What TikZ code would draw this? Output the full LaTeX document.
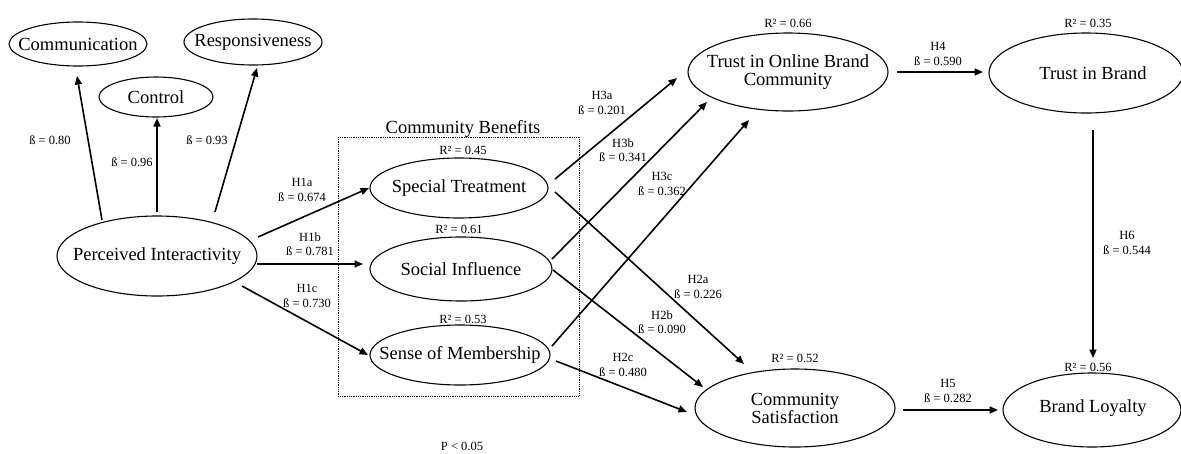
\documentclass[tikz,border=0pt]{standalone}
\usepackage{fontspec}
\setmainfont{Liberation Serif}
\usetikzlibrary{shapes.geometric,arrows.meta,calc}
\newcommand\bigf{\fontsize{18.5}{18}\selectfont}
\newcommand\smallf{\fontsize{12.5}{14.5}\selectfont}
\tikzset{
  lat/.style={ellipse, draw, line width=1.1pt, inner sep=0pt},
  txt/.style={font=\bigf, align=center, inner sep=0pt},
  conn/.style={line width=1.6pt, -{Triangle[length=8.5pt,width=7pt]}},
  lab/.style={font=\smallf, align=center, inner sep=0pt},
}
\begin{document}
\begin{tikzpicture}[x=1pt,y=-1pt]
\useasboundingbox (0,0) rectangle (1181,453);
% ellipses
\node[lat, minimum width=138pt, minimum height=44pt] (com) at (78,44) {};
\node[lat, minimum width=114pt, minimum height=40pt] (ctl) at (156,97) {};
\node[lat, minimum width=138pt, minimum height=46pt] (resp) at (253,42) {};
\node[lat, minimum width=200pt, minimum height=80pt] (pi) at (157,256) {};
\node[lat, minimum width=178pt, minimum height=60pt] (st) at (459,188) {};
\node[lat, minimum width=182pt, minimum height=64pt] (si) at (461,269) {};
\node[lat, minimum width=180pt, minimum height=60pt] (som) at (460,355) {};
\node[lat, minimum width=200pt, minimum height=78pt] (tobc) at (788,72) {};
\node[lat, minimum width=194pt, minimum height=80pt] (tb) at (1086,73) {};
\node[lat, minimum width=200pt, minimum height=78pt] (cs) at (795,408) {};
\node[lat, minimum width=178pt, minimum height=74pt] (bl) at (1092,410) {};
% texts
\node[txt] (comt) at (com) {Communication};
\node[txt] (ctlt) at (ctl) {Control};
\node[txt] (respt) at (resp) {Responsiveness};
\node[txt] (pit) at (pi) {Perceived Interactivity};
\node[txt] (stt) at (st) {Special Treatment};
\node[txt] (sit) at (si) {Social Influence};
\node[txt] (somt) at (som) {Sense of Membership};
\node[txt] (tobct) at (tobc) {Trust in Online Brand\\Community};
\node[txt] (tbt) at (1093,73) {Trust in Brand};
\node[txt] (cst) at (cs) {Community\\Satisfaction};
\node[txt] (blt) at (1093,408) {Brand Loyalty};
% community benefits box
\draw[densely dotted, line width=0.8pt] (338,137) rectangle (579,396);
\node[txt] (cbt) at (463,129) {Community Benefits};
% R2 labels
\node[lab] (r1) at (463,150) {R² = 0.45};
\node[lab] (r2) at (459,229) {R² = 0.61};
\node[lab] (r3) at (463,319) {R² = 0.53};
\node[lab] (r4) at (788,23) {R² = 0.66};
\node[lab] (r5) at (1088,23) {R² = 0.35};
\node[lab] (r6) at (795,358) {R² = 0.52};
\node[lab] (r7) at (1088,367) {R² = 0.56};
% connectors
\draw[conn] ($(pi)+(-55,-36)$) -- ($(com)+(-1,32)$);
\draw[conn] ($(pi)+(0,-44)$) -- ($(ctl)+(1,21)$);
\draw[conn] ($(pi)+(58,-44)$) -- ($(resp)+(4,26)$);
\draw[conn] ($(pi)+(101,-19)$) -- ($(st)+(-90,0)$);
\draw[conn] ($(pi)+(100,8)$) -- ($(si)+(-98,-5)$);
\draw[conn] ($(pi)+(85,30)$) -- ($(som)+(-92,0)$);
\draw[conn] ($(st)+(96,-9)$) -- ($(tobc)+(-111,6)$);
\draw[conn] ($(si)+(91,-10)$) -- ($(tobc)+(-81,30)$);
\draw[conn] ($(som)+(92,-9)$) -- ($(tobc)+(-39,48)$);
\draw[conn] ($(st)+(96,4)$) -- ($(cs)+(-51,-44)$);
\draw[conn] ($(si)+(92,1)$) -- ($(cs)+(-92,-21)$);
\draw[conn] ($(som)+(96,6)$) -- ($(cs)+(-108,4)$);
\draw[conn] ($(tobc)+(109,0)$) -- ($(tb)+(-103,-1)$);
\draw[conn] ($(cs)+(108,2)$) -- ($(bl)+(-94,0)$);
\draw[conn] ($(tb)+(7,57)$) -- ($(bl)+(1,-52)$);
% path labels
\node[lab] (l1) at (50,140) {ß = 0.80};
\node[lab] (l2) at (132,162) {ß = 0.96};
\node[lab] (l3) at (207,140) {ß = 0.93};
\node[lab] (h1a) at (302,190) {H1a\\ß = 0.674};
\node[lab] (h1b) at (310,244) {H1b\\ß = 0.781};
\node[lab] (h1c) at (307,296) {H1c\\ß = 0.730};
\node[lab] (h3a) at (602,103) {H3a\\ß = 0.201};
\node[lab] (h3b) at (623,150) {H3b\\ß = 0.341};
\node[lab] (h3c) at (662,184) {H3c\\ß = 0.362};
\node[lab] (h2a) at (698,287) {H2a\\ß = 0.226};
\node[lab] (h2b) at (662,322) {H2b\\ß = 0.090};
\node[lab] (h2c) at (623,365) {H2c\\ß = 0.480};
\node[lab] (h4) at (938,54) {H4\\ß = 0.590};
\node[lab] (h5) at (948,391) {H5\\ß = 0.282};
\node[lab] (h6) at (1127,243) {H6\\ß = 0.544};
\node[lab] (p) at (462,446) {P < 0.05};
\end{tikzpicture}
\end{document}
